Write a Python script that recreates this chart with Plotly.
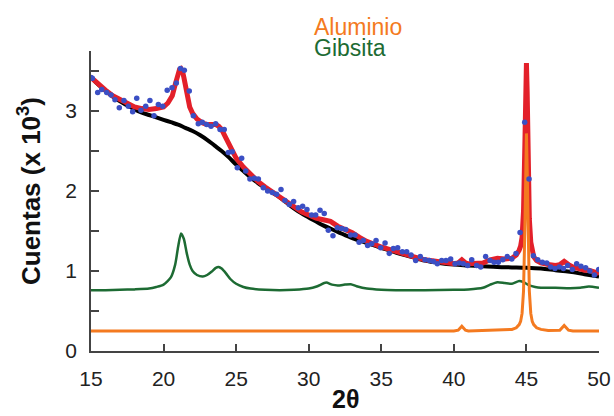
import plotly.graph_objects as go

# ---- data ----
bg_x = [15, 15.5, 16, 16.5, 17, 17.5, 18, 18.5, 19, 19.5, 20, 20.5, 21, 21.5, 22, 22.5, 23, 23.5, 24, 24.5,
        25, 25.5, 26, 26.5, 27, 27.5, 28, 28.5, 29, 29.5, 30, 31, 32, 33, 34, 35, 36, 37, 38, 39,
        40, 41, 42, 43, 44, 45, 46, 47, 48, 49, 50]
bg_y = [3.42, 3.33, 3.25, 3.18, 3.12, 3.07, 3.02, 2.98, 2.95, 2.92, 2.89, 2.86, 2.83, 2.79, 2.75, 2.70, 2.64, 2.57, 2.50, 2.42,
        2.33, 2.25, 2.17, 2.10, 2.04, 1.98, 1.92, 1.85, 1.78, 1.72, 1.67, 1.57, 1.49, 1.41, 1.35, 1.29, 1.23, 1.18, 1.13, 1.10,
        1.08, 1.07, 1.06, 1.05, 1.045, 1.04, 1.03, 1.01, 0.99, 0.96, 0.93]

fit_x = [15, 15.5, 16, 16.5, 17, 17.5, 18, 18.5, 19, 19.5, 20, 20.3, 20.6, 20.8, 21.0, 21.1, 21.2, 21.3, 21.4, 21.6,
         21.8, 22.0, 22.3, 22.7, 23.0, 23.3, 23.6, 23.8, 24.0, 24.3, 24.6, 25, 25.5, 26, 26.5, 27, 27.5, 28, 28.5, 29,
         29.5, 30, 30.5, 31, 31.5, 32, 32.5, 33, 33.5, 34, 35, 36, 37, 38, 39, 40, 40.3, 40.55, 40.8, 41,
         42, 42.5, 43, 43.5, 44, 44.3, 44.5, 44.6, 44.7, 44.8, 44.9, 44.95, 45.0, 45.05, 45.1, 45.2, 45.3, 45.4, 45.5, 45.7,
         46, 46.5, 47, 47.3, 47.6, 47.9, 48.2, 49, 49.3, 50]
fit_y = [3.42, 3.33, 3.26, 3.19, 3.14, 3.09, 3.05, 3.03, 3.02, 3.03, 3.05, 3.10, 3.19, 3.33, 3.47, 3.52, 3.53, 3.50, 3.42, 3.22,
         3.05, 2.97, 2.90, 2.85, 2.83, 2.83, 2.83, 2.81, 2.77, 2.66, 2.54, 2.41, 2.30, 2.20, 2.12, 2.05, 1.99, 1.93, 1.86, 1.80,
         1.74, 1.70, 1.66, 1.64, 1.62, 1.56, 1.52, 1.48, 1.42, 1.37, 1.30, 1.24, 1.19, 1.14, 1.11, 1.09, 1.10, 1.14, 1.10, 1.09,
         1.10, 1.14, 1.16, 1.15, 1.16, 1.20, 1.26, 1.31, 1.42, 1.75, 2.65, 3.25, 3.60, 3.25, 2.55, 1.65, 1.36, 1.24, 1.18, 1.13,
         1.10, 1.08, 1.07, 1.08, 1.12, 1.08, 1.05, 1.01, 1.01, 0.97]

gib_x = [15, 16, 17, 18, 19, 19.5, 20, 20.5, 20.8, 21.0, 21.2, 21.4, 21.6, 21.8, 22.0, 22.3, 22.7, 23.0, 23.3, 23.6,
         23.8, 24.0, 24.3, 24.6, 25, 25.5, 26, 27, 28, 29, 30, 30.6, 31.2, 31.6, 32.0, 32.5, 32.9, 33.3, 34, 35,
         36, 38, 40, 41, 42, 42.5, 43.0, 43.5, 44.0, 44.5, 44.8, 45.2, 45.6, 46, 47, 48, 48.7, 49.3, 50]
gib_y = [0.76, 0.76, 0.765, 0.77, 0.78, 0.80, 0.83, 0.92, 1.08, 1.30, 1.47, 1.40, 1.22, 1.08, 1.00, 0.95, 0.93, 0.95, 0.99, 1.04,
         1.05, 1.03, 0.97, 0.90, 0.84, 0.80, 0.78, 0.765, 0.76, 0.765, 0.78, 0.81, 0.855, 0.83, 0.82, 0.83, 0.835, 0.81, 0.78, 0.765,
         0.76, 0.76, 0.765, 0.77, 0.79, 0.83, 0.86, 0.85, 0.84, 0.875, 0.86, 0.82, 0.80, 0.79, 0.79, 0.785, 0.79, 0.805, 0.79]

al_x = [15, 40, 40.3, 40.55, 40.8, 41, 44.0, 44.3, 44.5, 44.6, 44.7, 44.8, 44.9, 44.95, 45.0, 45.05, 45.1, 45.2, 45.3, 45.4,
        45.5, 45.7, 46.0, 46.5, 47.3, 47.6, 47.9, 48.2, 50]
al_y = [0.25, 0.25, 0.26, 0.31, 0.26, 0.25, 0.27, 0.29, 0.33, 0.37, 0.47, 0.75, 1.6, 2.3, 2.72, 2.3, 1.6, 0.75, 0.47, 0.37,
        0.33, 0.29, 0.27, 0.255, 0.26, 0.32, 0.26, 0.25, 0.25]

obs_x = [15.0, 15.09, 15.46, 15.74, 16.08, 16.38, 16.65, 16.95, 17.27, 17.57, 17.87, 18.15, 18.44, 18.77, 19.06, 19.34, 19.64, 19.94,
         20.25, 20.58, 20.88, 21.16, 21.43, 21.77, 22.05, 22.39, 22.67, 22.97, 23.27, 23.59, 23.89, 24.18, 24.46, 24.73,
         25.08, 25.38, 25.66, 25.95, 26.25, 26.53, 26.87, 27.17, 27.49, 27.79, 28.09, 28.36, 28.66, 28.96, 29.28, 29.58,
         29.88, 30.20, 30.48, 30.78, 31.07, 31.35, 31.67, 31.97, 32.27, 32.55, 32.89, 33.19, 33.47, 33.76, 34.06, 34.34,
         34.64, 34.96, 35.26, 35.55, 35.83, 36.13, 36.45, 36.75, 37.05, 37.37, 37.69, 38.01, 38.31, 38.59, 38.86, 39.16,
         39.46, 39.78, 40.08, 40.38, 40.65, 40.95, 41.23, 41.57, 41.85, 42.19, 42.49, 42.77, 43.06, 43.37, 43.68, 43.99,
         44.28, 44.56, 44.88, 45.18, 45.48, 45.78, 46.10, 46.40, 46.67, 46.97, 47.27, 47.55, 47.84, 48.16, 48.46, 48.76,
         49.08, 49.37, 49.68, 49.98]
obs_y = [3.42, 3.41, 3.23, 3.27, 3.23, 3.20, 3.14, 3.04, 3.13, 3.06, 2.99, 3.16, 3.01, 3.06, 3.13, 2.94, 3.08, 3.06,
         3.26, 3.29, 3.35, 3.53, 3.51, 3.25, 2.94, 2.84, 2.86, 2.83, 2.81, 2.84, 2.77, 2.77, 2.48, 2.49,
         2.29, 2.41, 2.25, 2.15, 2.16, 2.15, 2.04, 2.00, 1.98, 1.96, 2.02, 1.88, 1.83, 1.87, 1.79, 1.81,
         1.77, 1.70, 1.70, 1.76, 1.72, 1.51, 1.44, 1.54, 1.53, 1.52, 1.45, 1.45, 1.36, 1.38, 1.32, 1.34,
         1.38, 1.29, 1.35, 1.22, 1.28, 1.29, 1.24, 1.24, 1.20, 1.13, 1.18, 1.14, 1.13, 1.12, 1.09, 1.13,
         1.13, 1.15, 1.09, 1.10, 1.09, 1.07, 1.14, 1.07, 1.05, 1.18, 1.13, 1.11, 1.11, 1.14, 1.18, 1.15,
         1.22, 1.48, 2.86, 2.15, 1.19, 1.14, 1.11, 1.10, 1.05, 1.03, 1.05, 1.03, 1.07, 1.02, 1.09, 1.06,
         1.04, 1.00, 0.95, 1.02]

x_ticks = [15, 20, 25, 30, 35, 40, 45, 50]
y_ticks = [0, 1, 2, 3]
y_minor = [0.5, 1.5, 2.5, 3.5]

BLUE = "#3b4fc4"
RED = "#e3202a"
GREEN = "#1d6b33"
ORANGE = "#f47a20"
FONT = "Liberation Sans, Arial, sans-serif"
AX = "#444444"

fig = go.Figure()
fig.add_trace(go.Scatter(x=bg_x, y=bg_y, mode="lines", line=dict(color="black", width=4, shape="spline"), showlegend=False))
fig.add_trace(go.Scatter(x=fit_x, y=fit_y, mode="lines", line=dict(color=RED, width=5), showlegend=False))
fig.add_trace(go.Scatter(x=gib_x, y=gib_y, mode="lines", line=dict(color=GREEN, width=2.5, shape="spline", smoothing=0.6), showlegend=False))
fig.add_trace(go.Scatter(x=al_x, y=al_y, mode="lines", line=dict(color=ORANGE, width=3), showlegend=False))
fig.add_trace(go.Scatter(x=obs_x, y=obs_y, mode="markers", marker=dict(color=BLUE, size=5.5), showlegend=False))

fig.update_layout(
    width=614, height=416,
    margin=dict(l=91, r=15, t=51, b=65, pad=0),
    paper_bgcolor="white", plot_bgcolor="white",
    font=dict(family=FONT, size=21, color="#222222"),
    xaxis=dict(range=[15, 50], tickvals=x_ticks, ticks="inside", ticklen=7, tickwidth=1.5, tickcolor=AX,
               showline=True, linecolor=AX, linewidth=1.5, showgrid=False, zeroline=False, automargin=False,
               tickfont=dict(size=21, family=FONT, color="#222"), ticklabelstandoff=8),
    yaxis=dict(range=[0, 3.75], tickvals=y_ticks, ticks="inside", ticklen=8, tickwidth=1.5,
               tickcolor=AX, showline=True, linecolor=AX, linewidth=1.5, showgrid=False, zeroline=False, automargin=False,
               minor=dict(tickvals=y_minor, ticks="inside", ticklen=8, tickwidth=1.5, tickcolor=AX, showgrid=False),
               tickfont=dict(size=21, family=FONT, color="#222"), ticklabelstandoff=8),
    annotations=[
        dict(text="<b>Cuentas (x 10<sup>3</sup>)</b>", xref="paper", yref="paper", x=(29 - 91) / 508, y=(351 - 191) / 300,
             xanchor="center", yanchor="middle", textangle=-90, showarrow=False,
             font=dict(size=26, family=FONT, color="#111")),
        dict(text="<b>2θ</b>", xref="paper", yref="paper", x=0.5, y=-(415 - 351) / 300,
             xanchor="center", yanchor="bottom", showarrow=False,
             font=dict(size=25, family=FONT, color="#111")),
        dict(text="Aluminio", xref="paper", yref="paper", x=(312 - 91) / 508, y=1 + (51 - 12) / 300,
             xanchor="left", yanchor="top", showarrow=False,
             font=dict(size=23, family=FONT, color=ORANGE)),
        dict(text="Gibsita", xref="paper", yref="paper", x=(312 - 91) / 508, y=1 + (51 - 33) / 300,
             xanchor="left", yanchor="top", showarrow=False,
             font=dict(size=23, family=FONT, color=GREEN)),
    ],
)

fig.write_html("out.html")
